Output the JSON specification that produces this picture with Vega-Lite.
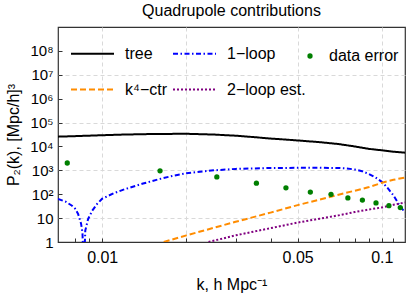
{
  "$schema": "https://vega.github.io/schema/vega-lite/v6.json",
  "width": 347,
  "height": 215,
  "autosize": {"type": "none"},
  "padding": {"left": 58, "top": 27, "right": 2, "bottom": 52},
  "title": {"text": "Quadrupole contributions", "fontSize": 16, "font": "Liberation Sans", "fontWeight": "normal", "color": "black", "anchor": "middle", "offset": 8},
  "datasets": {
    "lines": [
      {"k": 0.00695, "P": 25700, "series": "tree"},
      {"k": 0.008, "P": 27000, "series": "tree"},
      {"k": 0.01, "P": 29500, "series": "tree"},
      {"k": 0.012, "P": 31500, "series": "tree"},
      {"k": 0.015, "P": 33100, "series": "tree"},
      {"k": 0.02, "P": 33900, "series": "tree"},
      {"k": 0.025, "P": 31500, "series": "tree"},
      {"k": 0.03, "P": 28200, "series": "tree"},
      {"k": 0.035, "P": 24500, "series": "tree"},
      {"k": 0.04, "P": 21400, "series": "tree"},
      {"k": 0.045, "P": 19500, "series": "tree"},
      {"k": 0.05, "P": 17800, "series": "tree"},
      {"k": 0.06, "P": 15100, "series": "tree"},
      {"k": 0.07, "P": 12600, "series": "tree"},
      {"k": 0.08, "P": 10000, "series": "tree"},
      {"k": 0.09, "P": 7900, "series": "tree"},
      {"k": 0.1, "P": 6900, "series": "tree"},
      {"k": 0.11, "P": 6000, "series": "tree"},
      {"k": 0.121, "P": 5500, "series": "tree"},
      {"k": 0.00695, "P": 63, "series": "1−loop"},
      {"k": 0.0074, "P": 49, "series": "1−loop"},
      {"k": 0.0078, "P": 33, "series": "1−loop"},
      {"k": 0.008, "P": 25, "series": "1−loop"},
      {"k": 0.0082, "P": 15, "series": "1−loop"},
      {"k": 0.0084, "P": 6, "series": "1−loop"},
      {"k": 0.0085, "P": 2.5, "series": "1−loop"},
      {"k": 0.0086, "P": 0.05, "series": "1−loop"},
      {"k": 0.0087, "P": 3, "series": "1−loop"},
      {"k": 0.0089, "P": 9, "series": "1−loop"},
      {"k": 0.0092, "P": 20, "series": "1−loop"},
      {"k": 0.0096, "P": 40, "series": "1−loop"},
      {"k": 0.01, "P": 65, "series": "1−loop"},
      {"k": 0.011, "P": 110, "series": "1−loop"},
      {"k": 0.012, "P": 160, "series": "1−loop"},
      {"k": 0.014, "P": 280, "series": "1−loop"},
      {"k": 0.016, "P": 430, "series": "1−loop"},
      {"k": 0.018, "P": 600, "series": "1−loop"},
      {"k": 0.02, "P": 750, "series": "1−loop"},
      {"k": 0.025, "P": 1000, "series": "1−loop"},
      {"k": 0.03, "P": 1150, "series": "1−loop"},
      {"k": 0.04, "P": 1250, "series": "1−loop"},
      {"k": 0.05, "P": 1270, "series": "1−loop"},
      {"k": 0.06, "P": 1280, "series": "1−loop"},
      {"k": 0.07, "P": 1250, "series": "1−loop"},
      {"k": 0.075, "P": 1200, "series": "1−loop"},
      {"k": 0.08, "P": 1080, "series": "1−loop"},
      {"k": 0.085, "P": 920, "series": "1−loop"},
      {"k": 0.09, "P": 700, "series": "1−loop"},
      {"k": 0.095, "P": 500, "series": "1−loop"},
      {"k": 0.1, "P": 330, "series": "1−loop"},
      {"k": 0.105, "P": 180, "series": "1−loop"},
      {"k": 0.11, "P": 90, "series": "1−loop"},
      {"k": 0.115, "P": 38, "series": "1−loop"},
      {"k": 0.121, "P": 17, "series": "1−loop"},
      {"k": 0.0166, "P": 1, "series": "k⁴−ctr"},
      {"k": 0.02, "P": 1.9, "series": "k⁴−ctr"},
      {"k": 0.03, "P": 7, "series": "k⁴−ctr"},
      {"k": 0.04, "P": 17, "series": "k⁴−ctr"},
      {"k": 0.05, "P": 35, "series": "k⁴−ctr"},
      {"k": 0.06, "P": 60, "series": "k⁴−ctr"},
      {"k": 0.07, "P": 95, "series": "k⁴−ctr"},
      {"k": 0.08, "P": 140, "series": "k⁴−ctr"},
      {"k": 0.09, "P": 200, "series": "k⁴−ctr"},
      {"k": 0.1, "P": 300, "series": "k⁴−ctr"},
      {"k": 0.11, "P": 400, "series": "k⁴−ctr"},
      {"k": 0.121, "P": 500, "series": "k⁴−ctr"},
      {"k": 0.024, "P": 1, "series": "2−loop est."},
      {"k": 0.03, "P": 1.9, "series": "2−loop est."},
      {"k": 0.04, "P": 3.8, "series": "2−loop est."},
      {"k": 0.05, "P": 6.5, "series": "2−loop est."},
      {"k": 0.06, "P": 9.5, "series": "2−loop est."},
      {"k": 0.07, "P": 13, "series": "2−loop est."},
      {"k": 0.08, "P": 18, "series": "2−loop est."},
      {"k": 0.09, "P": 23, "series": "2−loop est."},
      {"k": 0.1, "P": 28, "series": "2−loop est."},
      {"k": 0.11, "P": 36, "series": "2−loop est."},
      {"k": 0.121, "P": 45, "series": "2−loop est."}
    ],
    "pts": [
      {"k": 0.0075, "P": 2030, "series": "data error"},
      {"k": 0.0161, "P": 950, "series": "data error"},
      {"k": 0.0257, "P": 530, "series": "data error"},
      {"k": 0.0356, "P": 290, "series": "data error"},
      {"k": 0.0454, "P": 186, "series": "data error"},
      {"k": 0.0555, "P": 123, "series": "data error"},
      {"k": 0.0658, "P": 99, "series": "data error"},
      {"k": 0.0756, "P": 70, "series": "data error"},
      {"k": 0.0852, "P": 57, "series": "data error"},
      {"k": 0.0953, "P": 43, "series": "data error"},
      {"k": 0.106, "P": 33, "series": "data error"},
      {"k": 0.1164, "P": 27.5, "series": "data error"}
    ]
  },
  "layer": [
    {
      "data": {"name": "lines"},
      "mark": {"type": "line", "clip": true, "strokeWidth": 2},
      "encoding": {
        "x": {"field": "k", "type": "quantitative",
          "scale": {"type": "log", "domain": [0.00695, 0.121], "nice": false},
          "axis": {"orient": "bottom", "values": [0.008, 0.009, 0.01, 0.02, 0.03, 0.04, 0.05, 0.06, 0.07, 0.08, 0.09, 0.1, 0.11],
            "labelExpr": "datum.value == 0.01 ? '0.01' : datum.value == 0.05 ? '0.05' : datum.value == 0.1 ? '0.1' : ''",
            "grid": false, "domain": false, "tickSize": -4, "tickColor": "#333", "labelPadding": 11, "labelFontSize": 16, "labelFlush": false, "labelOverlap": false,
            "title": "k, h Mpc⁻¹", "titleFontSize": 16, "titlePadding": 11}},
        "y": {"field": "P", "type": "quantitative",
          "scale": {"type": "log", "domain": [1, 1000000000], "nice": false},
          "axis": {"orient": "left", "values": [1, 10, 100, 1000, 10000, 100000, 1000000, 10000000, 100000000],
            "labelExpr": "datum.value == 1 ? '1' : datum.value == 10 ? '10' : '10' + ['⁰','¹','²','³','⁴','⁵','⁶','⁷','⁸','⁹'][round(log(datum.value)/LN10)]",
            "grid": false, "domain": false, "tickSize": -4, "tickColor": "#333", "labelPadding": 9, "labelFontSize": 15, "labelOverlap": false, "labelFlush": false,
            "title": "P₂(k), [Mpc/h]³", "titleFontSize": 16, "titlePadding": 8}},
        "color": {"field": "series", "type": "nominal",
          "scale": {"domain": ["tree", "1−loop", "k⁴−ctr", "2−loop est."], "range": ["black", "#0000ff", "#ff8c00", "#800080"]},
          "legend": {"orient": "none", "legendX": 12, "legendY": 4, "columns": 2, "direction": "horizontal", "title": null, "symbolType": "stroke", "symbolSize": 1849, "symbolStrokeWidth": 2, "labelFontSize": 16, "labelOffset": 10, "columnPadding": 2, "rowPadding": 5, "labelColor": "black"}},
        "strokeDash": {"field": "series", "type": "nominal",
          "scale": {"domain": ["tree", "1−loop", "k⁴−ctr", "2−loop est."], "range": [[1, 0], [5, 2.5, 1.5, 2.5], [6, 3], [2, 2]]}}
      }
    },
    {
      "data": {"name": "pts"},
      "mark": {"type": "point", "filled": true, "size": 28, "color": "#007f00", "opacity": 1},
      "encoding": {
        "x": {"field": "k", "type": "quantitative",
          "axis": {"orient": "bottom", "values": [0.01, 0.02, 0.05, 0.1], "grid": true, "gridColor": "#d9d9d9", "gridDash": [4, 3], "ticks": false, "labels": false, "domain": false, "title": null}},
        "y": {"field": "P", "type": "quantitative",
          "axis": {"orient": "left", "values": [10, 1000, 100000, 10000000], "grid": true, "gridColor": "#d9d9d9", "gridDash": [4, 3], "ticks": false, "labels": false, "domain": false, "title": null}},
        "shape": {"field": "series", "type": "nominal",
          "scale": {"domain": ["data error"], "range": ["circle"]},
          "legend": {"orient": "none", "legendX": 244, "legendY": 21, "title": null, "symbolSize": 28, "symbolFillColor": "#007f00", "symbolStrokeColor": "#007f00", "labelFontSize": 16, "labelOffset": 11, "labelColor": "black"}}
      }
    }
  ],
  "resolve": {"axis": {"x": "independent", "y": "independent"}},
  "config": {
    "font": "Liberation Sans",
    "view": {"stroke": "#333", "strokeWidth": 1.2},
    "axis": {"labelFont": "Liberation Sans", "titleFont": "Liberation Sans", "labelColor": "black", "titleColor": "black", "titleFontWeight": "normal"},
    "legend": {"labelFont": "Liberation Sans"}
  }
}
